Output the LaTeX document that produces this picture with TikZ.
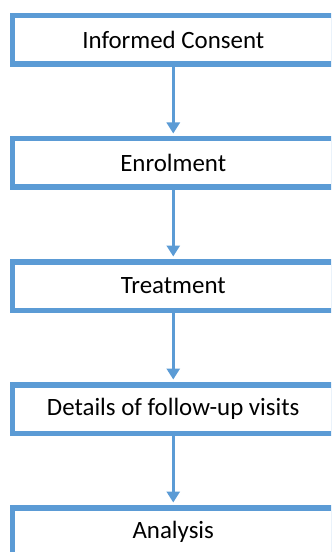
\documentclass[tikz,border=0pt]{standalone}
\usepackage{fontspec}
\setmainfont{Carlito}
\usetikzlibrary{arrows.meta}
\definecolor{boxblue}{HTML}{5B9BD5}
\tikzset{
  flowbox/.style={draw=boxblue, line width=5.5bp, fill=white, minimum width=321bp, minimum height=48.5bp, inner sep=0pt, font=\fontsize{25}{29}\selectfont, text=black},
  flowarrow/.style={draw=boxblue, line width=3.5bp, -{Triangle[width=13bp,length=11bp]}, shorten >=2.5bp}
}
\begin{document}
\begin{tikzpicture}[x=1bp,y=-1bp]
\useasboundingbox (0,0) rectangle (331,552);
\clip (0,0) rectangle (331,552);
\node[flowbox] (b1) at (173.25,40) {Informed Consent};
\node[flowbox] (b2) at (173.25,163) {Enrolment};
\node[flowbox] (b3) at (173.25,286) {Treatment};
\node[flowbox] (b4) at (173.25,409) {Details of follow-up visits};
\node[flowbox] (b5) at (173.25,532) {Analysis};
\draw[flowarrow] (b1.south) -- (b2.north);
\draw[flowarrow] (b2.south) -- (b3.north);
\draw[flowarrow] (b3.south) -- (b4.north);
\draw[flowarrow] (b4.south) -- (b5.north);
\end{tikzpicture}
\end{document}
